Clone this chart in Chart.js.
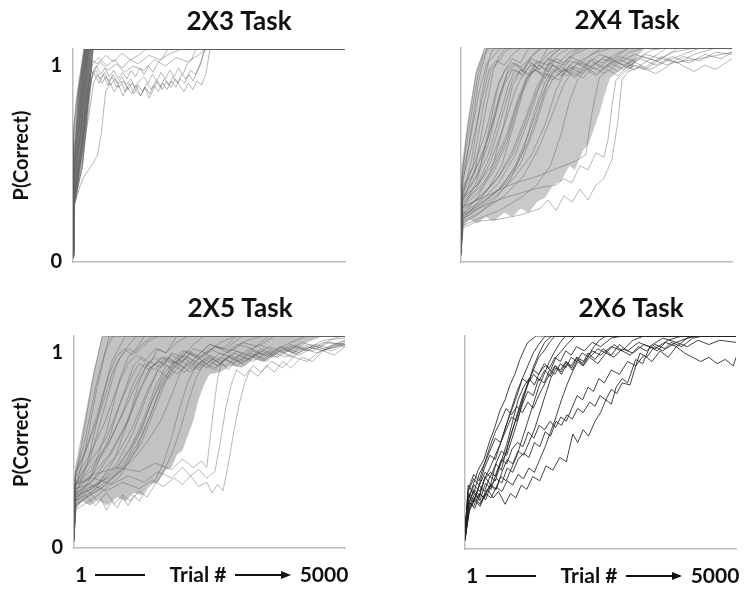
<!DOCTYPE html>
<html>
<head>
<meta charset="utf-8">
<script src="https://cdn.jsdelivr.net/npm/chart.js@4.4.1/dist/chart.umd.min.js"></script>
<style>
  body { margin: 0; background: #fff; }
  #wrap { position: relative; width: 746px; height: 590px; overflow: hidden; }
  .panel { position: absolute; width: 373px; }
</style>
</head>
<body>
<div id="wrap">
  <div class="panel" style="left:0;top:0;height:290px"><canvas id="c23"></canvas></div>
  <div class="panel" style="left:373px;top:0;height:290px"><canvas id="c24"></canvas></div>
  <div class="panel" style="left:0;top:290px;height:300px"><canvas id="c25"></canvas></div>
  <div class="panel" style="left:373px;top:290px;height:300px"><canvas id="c26"></canvas></div>
</div>
<script>
// x = trial number, y = P(correct); each curve is a list of [trial, p] points
const trialRange = [1, 5000];
const yTickValues = [0, 0.92];
const yTickLabels = ['0', '1'];
const panelTitles = ['2X3 Task', '2X4 Task', '2X5 Task', '2X6 Task'];
const yAxisTitle = 'P(Correct)';
const footerLabels = ['1', 'Trial #', '5000'];

// edges of the dense mass of curves, filled in between
const band2x3Upper = [[1,.1],[5,.45],[37,.57],[92,.81],[220,1],[380,1]];
const band2x3Lower = [[1,.02],[15,.25],[70,.3],[200,.57],[330,.85],[375,1],[380,1]];
const band2x4Upper = [[1,.12],[12,.45],[120,.66],[280,.9],[440,1],[3400,1]];
const band2x4Lower = [[1,.04],[40,.16],[150,.2],[300,.18],[450,.21],[600,.19],[800,.23],[950,.21],[1100,.25],[1250,.23],[1400,.28],[1550,.3],[1700,.36],[1850,.38],[2000,.45],[2100,.43],[2250,.52],[2350,.55],[2450,.62],[2560,.7],[2650,.78],[2750,.86],[2850,.88],[3000,.91],[3150,.9],[3250,.96],[3400,1]];
const band2x5Upper = [[1,.12],[20,.38],[150,.55],[350,.82],[520,1],[4600,1]];
const band2x5Lower = [[1,.04],[30,.18],[150,.22],[300,.2],[450,.23],[600,.2],[800,.24],[950,.22],[1100,.26],[1250,.25],[1400,.3],[1550,.31],[1700,.37],[1800,.38],[1900,.44],[2000,.46],[2100,.53],[2200,.6],[2300,.7],[2400,.77],[2500,.82],[2700,.83],[2900,.86],[3100,.85],[3300,.89],[3500,.88],[3800,.93],[4050,.92],[4300,.97],[4600,1]];

const task2x3 = [
  [[1,.02],[8,.6],[60,.76],[200,1],[5000,1]],
  [[1,.05],[10,.55],[80,.72],[215,1],[5000,1]],
  [[1,.03],[12,.48],[90,.66],[225,1],[5000,1]],
  [[1,.08],[10,.45],[100,.64],[225,.97],[240,1],[5000,1]],
  [[1,.04],[15,.4],[110,.6],[230,.92],[250,1],[5000,1]],
  [[1,.06],[12,.38],[120,.58],[240,.9],[265,1],[5000,1]],
  [[1,.02],[14,.35],[130,.55],[250,.88],[280,1],[5000,1]],
  [[1,.05],[16,.33],[140,.52],[260,.85],[300,1],[5000,1]],
  [[1,.03],[18,.3],[150,.5],[270,.82],[310,.97],[330,1],[5000,1]],
  [[1,.07],[12,.5],[90,.7],[200,.95],[225,1],[5000,1]],
  [[1,.04],[10,.58],[70,.74],[210,1],[5000,1]],
  [[1,.05],[14,.42],[100,.62],[220,.93],[245,1],[5000,1]],
  [[1,.02],[15,.36],[120,.56],[245,.87],[290,1],[5000,1]],
  [[1,.06],[20,.3],[160,.48],[285,.8],[335,.96],[355,1],[5000,1]],
  [[1,.03],[18,.28],[170,.45],[295,.78],[345,.93],[370,1],[5000,1]],
  [[1,.05],[10,.52],[100,.68],[210,.96],[225,1],[5000,1]],
  [[1,.04],[12,.46],[110,.65],[235,.95],[255,1],[5000,1]],
  [[1,.07],[16,.4],[130,.6],[250,.9],[280,1],[5000,1]],
  [[1,.02],[20,.33],[150,.54],[275,.85],[315,1],[5000,1]],
  [[1,.05],[8,.62],[50,.72],[205,1],[5000,1]],
  [[1,.03],[22,.26],[180,.46],[305,.83],[360,.98],[380,1],[5000,1]],
  [[1,.06],[14,.44],[115,.63],[235,.93],[260,1],[5000,1]],
  [[1,.04],[15,.38],[130,.58],[260,.88],[330,.95],[450,.93],[600,.97],[750,.94],[900,.98],[1050,.95],[1200,.97],[1350,1],[5000,1]],
  [[1,.05],[18,.32],[160,.5],[290,.84],[360,.93],[480,.96],[620,.92],[760,.95],[900,.91],[1050,.95],[1200,.93],[1400,.97],[1600,.95],[1800,.98],[2000,1],[5000,1]],
  [[1,.03],[20,.3],[170,.47],[300,.8],[380,.9],[500,.94],[640,.9],[800,.93],[950,.89],[1100,.92],[1300,.9],[1500,.95],[1700,.92],[1900,.96],[2100,.94],[2300,.97],[2450,1],[5000,1]],
  [[1,.02],[12,.28],[60,.3],[120,.35],[200,.4],[280,.43],[360,.46],[450,.5],[520,.6],[600,.8],[680,.84],[760,.8],[840,.83],[920,.78],[1000,.82],[1080,.79],[1160,.83],[1240,.78],[1320,.82],[1400,.77],[1480,.81],[1560,.85],[1640,.81],[1720,.85],[1800,.82],[1880,.86],[1960,.83],[2040,.8],[2120,.84],[2200,.81],[2280,.85],[2360,.83],[2440,.88],[2520,1],[5000,1]],
  [[1,.03],[15,.3],[100,.42],[200,.55],[300,.7],[380,.84],[450,.88],[530,.84],[610,.87],[690,.83],[770,.86],[850,.82],[930,.85],[1010,.81],[1090,.84],[1170,.8],[1250,.78],[1330,.82],[1410,.79],[1490,.83],[1570,.8],[1650,.84],[1730,.81],[1810,.85],[1890,.82],[1970,.86],[2050,.84],[2130,.88],[2210,.85],[2290,.9],[2380,.96],[2420,1],[5000,1]],
  [[1,.04],[18,.32],[150,.5],[260,.72],[340,.86],[420,.9],[500,.86],[580,.89],[660,.85],[740,.88],[820,.84],[900,.87],[980,.83],[1060,.86],[1140,.82],[1220,.85],[1300,.87],[1380,.84],[1460,.88],[1540,.85],[1620,.89],[1700,.86],[1780,.9],[1860,.87],[1940,.91],[2020,.88],[2100,.93],[2180,.95],[2260,1],[5000,1]],
  [[1,.05],[20,.28],[170,.44],[280,.7],[350,.88],[430,.92],[510,.88],[590,.91],[670,.87],[750,.9],[830,.86],[910,.89],[990,.86],[1070,.9],[1150,.87],[1230,.91],[1310,.88],[1390,.92],[1470,.89],[1550,.93],[1650,.96],[1750,1],[5000,1]],
  [[1,.03],[16,.34],[140,.52],[250,.76],[320,.9],[400,.88],[480,.84],[560,.88],[640,.83],[720,.87],[800,.82],[880,.85],[960,.8],[1040,.84],[1120,.79],[1200,.83],[1280,.8],[1360,.84],[1440,.81],[1520,.85],[1600,.82],[1680,.86],[1760,.83],[1840,.87],[1920,.84],[2000,.88],[2080,.86],[2160,.9],[2260,.88],[2350,.93],[2400,.98],[2450,1],[5000,1]]
];

const task2x4 = [
  [[1,.05],[15,.4],[120,.62],[280,.88],[440,1],[5000,1]],
  [[1,.08],[20,.35],[150,.55],[320,.84],[480,1],[5000,1]],
  [[1,.04],[25,.3],[200,.48],[380,.78],[520,.95],[600,1],[5000,1]],
  [[1,.06],[20,.42],[140,.6],[300,.86],[420,.97],[520,1],[5000,1]],
  [[1,.05],[25,.28],[250,.42],[450,.7],[600,.9],[700,.96],[820,1],[5000,1]],
  [[1,.07],[30,.33],[220,.45],[420,.74],[560,.9],[680,.93],[800,.98],[900,1],[5000,1]],
  [[1,.03],[30,.25],[300,.38],[500,.6],[700,.84],[820,.9],[950,.95],[1100,.93],[1250,1],[5000,1]],
  [[1,.06],[25,.3],[280,.4],[520,.56],[720,.78],[880,.9],[1000,.93],[1150,.9],[1300,.96],[1450,1],[5000,1]],
  [[1,.05],[30,.22],[300,.3],[550,.42],[750,.6],[950,.82],[1100,.9],[1250,.87],[1400,.93],[1550,.9],[1700,.97],[1850,1],[5000,1]],
  [[1,.04],[35,.2],[250,.26],[500,.34],[750,.45],[950,.62],[1150,.8],[1300,.88],[1450,.92],[1600,.89],[1750,.95],[1900,.93],[2100,.98],[2250,1],[5000,1]],
  [[1,.06],[25,.36],[200,.4],[400,.5],[600,.66],[800,.83],[950,.9],[1100,.88],[1250,.94],[1400,.91],[1600,.97],[1800,1],[5000,1]],
  [[1,.03],[30,.27],[350,.35],[600,.44],[850,.58],[1050,.75],[1250,.87],[1400,.9],[1550,.86],[1700,.92],[1850,.89],[2000,.94],[2200,.92],[2400,.97],[2600,1],[5000,1]],
  [[1,.05],[35,.18],[300,.22],[650,.3],[900,.38],[1150,.52],[1350,.7],[1550,.84],[1700,.9],[1850,.87],[2000,.92],[2200,.9],[2400,.95],[2600,.93],[2850,.97],[3100,1],[5000,1]],
  [[1,.07],[30,.3],[300,.36],[600,.46],[850,.6],[1050,.76],[1200,.86],[1350,.9],[1500,.87],[1650,.93],[1800,.9],[2000,.96],[2200,.94],[2500,.98],[2800,1],[5000,1]],
  [[1,.04],[40,.2],[400,.27],[750,.35],[1000,.45],[1250,.6],[1450,.75],[1650,.87],[1800,.92],[2000,.89],[2200,.94],[2400,.91],[2650,.96],[2900,.93],[3200,.97],[3500,.95],[3800,1],[5000,1]],
  [[1,.06],[30,.25],[350,.3],[700,.4],[950,.52],[1200,.68],[1400,.82],[1550,.88],[1700,.85],[1900,.9],[2100,.87],[2300,.92],[2500,.9],[2750,.95],[3000,.92],[3300,.96],[3600,.94],[3900,.98],[4300,1],[5000,1]],
  [[1,.05],[35,.22],[400,.28],[800,.36],[1100,.46],[1350,.62],[1550,.78],[1700,.86],[1900,.9],[2100,.86],[2300,.91],[2500,.88],[2750,.93],[3000,.9],[3300,.95],[3600,.92],[3900,.96],[4200,.93],[4500,.97],[4800,.95],[5000,.98]],
  [[1,.04],[40,.17],[300,.2],[700,.24],[1100,.3],[1400,.36],[1650,.45],[1850,.6],[2000,.75],[2150,.85],[2300,.9],[2500,.87],[2700,.92],[2900,.89],[3150,.94],[3400,.91],[3700,.96],[4000,.93],[4300,.89],[4500,.92],[4700,.9],[5000,.95]],
  [[1,.05],[30,.32],[250,.42],[500,.58],[700,.77],[850,.88],[1000,.92],[1150,.89],[1300,.95],[1450,.93],[1600,1],[5000,1]],
  [[1,.06],[25,.38],[180,.52],[380,.75],[520,.9],[650,.94],[800,.92],[950,.97],[1100,1],[5000,1]],
  [[1,.03],[30,.28],[280,.34],[550,.47],[800,.64],[1000,.8],[1150,.88],[1300,.92],[1450,.9],[1600,.95],[1800,.93],[2000,.98],[2200,1],[5000,1]],
  [[1,.05],[35,.24],[320,.3],[650,.38],[950,.5],[1200,.66],[1400,.8],[1550,.88],[1700,.92],[1900,.89],[2100,.94],[2300,.92],[2550,.97],[2800,.95],[3100,1],[5000,1]],
  [[1,.07],[30,.2],[350,.25],[700,.32],[1000,.4],[1300,.5],[1550,.64],[1750,.8],[1900,.88],[2050,.91],[2250,.88],[2450,.93],[2650,.9],[2900,.95],[3150,.92],[3400,.97],[3700,.95],[4000,1],[5000,1]],
  [[1,.05],[30,.26],[400,.3],[900,.36],[1400,.4],[1800,.44],[2100,.47],[2300,.5],[2420,.7],[2550,.86],[2700,.9],[2900,.87],[3100,.92],[3400,.9],[3700,.95],[4000,.93],[4300,.97],[4700,1],[5000,1]],
  [[1,.04],[40,.16],[300,.19],[700,.2],[1100,.22],[1458,.25],[1605,.29],[1753,.24],[1900,.31],[2048,.28],[2196,.34],[2343,.29],[2491,.36],[2638,.39],[2786,.48],[2897,.66],[2970,.85],[3081,.89],[3303,.91],[3600,.88],[3900,.93],[4410,.95],[5000,.98]],
  [[1,.05],[35,.22],[400,.26],[800,.3],[1200,.33],[1500,.35],[1753,.36],[1900,.39],[2048,.37],[2196,.45],[2343,.43],[2491,.51],[2638,.49],[2712,.57],[2786,.73],[2860,.85],[3026,.89],[3200,.92],[3500,.9],[3800,.94],[4100,.97],[4400,1],[5000,1]],
  [[1,.04],[25,.34],[220,.44],[450,.6],[650,.8],[800,.89],[950,.93],[1100,.91],[1300,.96],[1500,1],[5000,1]],
  [[1,.06],[30,.26],[300,.32],[600,.42],[850,.56],[1050,.73],[1200,.85],[1350,.9],[1500,.88],[1700,.94],[1900,.92],[2100,.97],[2350,1],[5000,1]],
  [[1,.05],[35,.21],[350,.27],[700,.34],[1000,.44],[1250,.57],[1450,.72],[1600,.84],[1750,.9],[1950,.87],[2150,.93],[2350,.9],[2600,.95],[2850,.93],[3100,.98],[3400,1],[5000,1]],
  [[1,.03],[30,.3],[250,.38],[500,.5],[700,.67],[880,.83],[1000,.9],[1150,.87],[1300,.93],[1450,.9],[1650,.96],[1850,1],[5000,1]],
  [[1,.07],[40,.19],[400,.24],[800,.31],[1150,.4],[1450,.54],[1700,.7],[1900,.83],[2050,.89],[2250,.86],[2450,.91],[2650,.88],[2900,.93],[3200,.9],[3500,.95],[3800,.92],[4100,.96],[4400,.94],[4700,.98],[5000,.97]],
  [[1,.05],[25,.4],[160,.56],[340,.8],[480,.93],[600,.96],[720,1],[5000,1]],
  [[1,.04],[30,.29],[300,.36],[550,.5],[780,.7],[950,.85],[1100,.9],[1250,.88],[1400,.94],[1600,.92],[1800,.97],[2000,1],[5000,1]],
  [[1,.06],[35,.23],[350,.28],[700,.37],[1000,.5],[1250,.67],[1450,.82],[1600,.88],[1800,.85],[2000,.91],[2200,.88],[2400,.94],[2650,.91],[2900,.96],[3200,.94],[3500,.99],[3800,1],[5000,1]]
];

const task2x5 = [
  [[1,.05],[20,.32],[150,.5],[350,.8],[520,1],[5000,1]],
  [[1,.07],[25,.28],[200,.45],[420,.75],[600,.95],[650,1],[5000,1]],
  [[1,.04],[25,.35],[180,.48],[400,.76],[580,.93],[720,1],[5000,1]],
  [[1,.06],[30,.25],[250,.4],[500,.68],[700,.88],[820,.94],[950,1],[5000,1]],
  [[1,.05],[25,.3],[300,.42],[550,.65],[780,.86],[900,.92],[1050,.97],[1150,1],[5000,1]],
  [[1,.03],[30,.22],[300,.33],[600,.55],[850,.8],[1000,.9],[1150,.94],[1300,1],[5000,1]],
  [[1,.06],[30,.27],[350,.35],[650,.52],[900,.72],[1100,.86],[1250,.9],[1400,.87],[1550,.94],[1700,.92],[1900,1],[5000,1]],
  [[1,.05],[35,.2],[400,.28],[750,.42],[1000,.6],[1200,.78],[1350,.87],[1500,.9],[1650,.86],[1800,.92],[2000,.9],[2200,.96],[2400,1],[5000,1]],
  [[1,.04],[25,.3],[300,.38],[650,.5],[950,.66],[1200,.8],[1400,.88],[1600,.85],[1800,.91],[2000,.88],[2200,.94],[2450,.92],[2700,.97],[3000,1],[5000,1]],
  [[1,.07],[30,.24],[400,.3],[800,.4],[1100,.55],[1350,.72],[1550,.84],[1750,.9],[1950,.86],[2150,.92],[2350,.89],[2600,.95],[2850,.92],[3100,.97],[3400,.95],[3700,1],[5000,1]],
  [[1,.05],[35,.18],[450,.25],[850,.34],[1150,.46],[1400,.62],[1600,.76],[1800,.86],[2000,.9],[2200,.87],[2400,.92],[2650,.88],[2900,.94],[3150,.91],[3400,.96],[3700,.93],[4000,.97],[4300,1],[5000,1]],
  [[1,.06],[25,.33],[250,.42],[550,.58],[800,.76],[1000,.87],[1150,.91],[1300,.88],[1500,.94],[1700,.92],[1900,.97],[2100,1],[5000,1]],
  [[1,.04],[30,.26],[350,.32],[700,.45],[1000,.6],[1250,.76],[1450,.86],[1650,.9],[1850,.87],[2050,.93],[2250,.9],[2500,.96],[2750,.94],[3000,1],[5000,1]],
  [[1,.05],[40,.21],[500,.28],[900,.37],[1250,.5],[1500,.66],[1700,.79],[1900,.87],[2100,.9],[2300,.86],[2500,.91],[2750,.88],[3000,.93],[3300,.9],[3600,.95],[3900,.92],[4200,.97],[4500,.95],[4800,.99],[5000,1]],
  [[1,.06],[30,.3],[300,.36],[600,.47],[900,.64],[1100,.78],[1300,.87],[1500,.84],[1700,.9],[1900,.87],[2100,.93],[2350,.9],[2600,.95],[2900,.93],[3200,.98],[3500,1],[5000,1]],
  [[1,.03],[35,.23],[450,.3],[850,.4],[1200,.54],[1450,.7],[1650,.82],[1850,.88],[2050,.85],[2250,.9],[2450,.87],[2700,.92],[2950,.89],[3250,.94],[3550,.91],[3850,.95],[4150,.92],[4450,.96],[4750,.94],[5000,.97]],
  [[1,.05],[25,.36],[220,.46],[480,.64],[700,.82],[850,.9],[1000,.94],[1150,.92],[1350,.97],[1550,1],[5000,1]],
  [[1,.07],[30,.25],[400,.33],[800,.44],[1100,.58],[1350,.74],[1550,.84],[1750,.8],[1950,.86],[2150,.83],[2350,.88],[2600,.85],[2850,.9],[3100,.87],[3400,.92],[3700,.9],[4000,.95],[4300,.93],[4600,.97],[5000,.96]],
  [[1,.04],[30,.22],[200,.25],[400,.2],[500,.23],[600,.18],[700,.22],[800,.19],[900,.24],[1000,.2],[1100,.25],[1200,.22],[1350,.28],[1500,.32],[1650,.4],[1800,.52],[1950,.66],[2100,.78],[2250,.86],[2450,.9],[2650,.86],[2850,.91],[3050,.88],[3300,.93],[3550,.9],[3800,.95],[4050,.92],[4300,.96],[4600,.94],[5000,.98]],
  [[1,.05],[35,.25],[250,.27],[450,.22],[600,.26],[750,.21],[900,.25],[1050,.22],[1200,.27],[1350,.24],[1500,.3],[1650,.36],[1800,.44],[1950,.55],[2100,.68],[2250,.8],[2400,.87],[2600,.84],[2800,.89],[3000,.86],[3250,.91],[3500,.88],[3750,.93],[4000,.9],[4300,.95],[4600,.93],[5000,.97]],
  [[1,.06],[30,.28],[300,.3],[600,.27],[900,.31],[1200,.28],[1450,.32],[1650,.29],[1850,.33],[2000,.3],[2150,.34],[2300,.29],[2450,.31],[2550,.26],[2650,.3],[2750,.27],[2850,.4],[2950,.55],[3050,.68],[3150,.78],[3250,.84],[3400,.81],[3550,.86],[3700,.83],[3850,.88],[4000,.85],[4200,.9],[4400,.88],[4600,.93],[4800,.91],[5000,.95]],
  [[1,.04],[30,.3],[350,.33],[700,.3],[1000,.34],[1300,.31],[1550,.36],[1800,.33],[2000,.38],[2150,.34],[2300,.37],[2450,.33],[2600,.36],[2700,.5],[2800,.66],[2900,.77],[3000,.84],[3150,.81],[3300,.86],[3450,.83],[3650,.88],[3850,.85],[4050,.9],[4300,.88],[4550,.93],[5000,.96]],
  [[1,.05],[30,.3],[400,.35],[800,.38],[1200,.36],[1500,.4],[1800,.37],[2000,.42],[2200,.38],[2350,.41],[2450,.38],[2550,.6],[2650,.8],[2720,.87],[2850,.84],[3000,.89],[3150,.86],[3350,.91],[3550,.88],[3800,.93],[4050,.9],[4300,.95],[4600,.93],[5000,.98]],
  [[1,.06],[35,.26],[400,.3],[800,.35],[1100,.42],[1350,.5],[1600,.6],[1800,.72],[1950,.82],[2100,.88],[2300,.85],[2500,.9],[2700,.87],[2950,.92],[3200,.89],[3450,.94],[3700,.91],[4000,.96],[4300,.94],[4600,.98],[5000,.99]],
  [[1,.03],[25,.31],[280,.4],[600,.52],[850,.68],[1050,.8],[1200,.87],[1400,.84],[1600,.9],[1800,.87],[2000,.93],[2250,.9],[2500,.96],[2800,.94],[3100,1],[5000,1]],
  [[1,.05],[30,.22],[350,.27],[700,.33],[1000,.43],[1250,.56],[1450,.7],[1650,.8],[1850,.86],[2050,.83],[2250,.88],[2450,.85],[2700,.9],[2950,.87],[3250,.92],[3550,.89],[3850,.94],[4150,.91],[4450,.95],[4750,.93],[5000,.96]],
  [[1,.06],[25,.34],[200,.45],[420,.62],[620,.8],[780,.9],[920,.94],[1080,.91],[1250,.96],[1450,1],[5000,1]],
  [[1,.04],[35,.2],[300,.25],[600,.3],[900,.38],[1150,.48],[1400,.62],[1600,.75],[1800,.84],[2000,.88],[2200,.84],[2400,.89],[2650,.86],[2900,.91],[3150,.88],[3450,.93],[3750,.9],[4050,.95],[4400,.93],[4700,.97],[5000,.96]],
  [[1,.05],[30,.28],[320,.34],[650,.44],[950,.58],[1200,.74],[1400,.85],[1600,.88],[1800,.85],[2000,.91],[2250,.88],[2500,.94],[2750,.91],[3000,.96],[3300,.94],[3600,1],[5000,1]],
  [[1,.07],[30,.24],[380,.29],[750,.36],[1050,.47],[1300,.62],[1500,.76],[1700,.86],[1900,.82],[2100,.87],[2300,.84],[2550,.89],[2800,.86],[3050,.91],[3300,.88],[3600,.93],[3900,.9],[4200,.94],[4500,.92],[4800,.96],[5000,.95]]
];

const task2x6 = [
  [[1,.1],[55,.23],[150,.3],[240,.37],[350,.42],[460,.51],[550,.57],[645,.65],[740,.7],[830,.77],[920,.82],[1015,.89],[1100,.94],[1160,.97],[1310,1],[5000,1]],
  [[1,.05],[60,.2],[160,.27],[260,.24],[360,.33],[460,.38],[560,.44],[660,.5],[760,.58],[860,.65],[960,.72],[1060,.8],[1160,.86],[1260,.92],[1360,.96],[1480,1],[5000,1]],
  [[1,.08],[60,.25],[160,.22],[260,.3],[360,.27],[460,.34],[560,.32],[660,.4],[760,.45],[860,.55],[960,.62],[1060,.7],[1160,.78],[1260,.84],[1360,.9],[1460,.93],[1560,.97],[1660,1],[5000,1]],
  [[1,.04],[80,.2],[180,.26],[280,.23],[380,.31],[480,.28],[580,.36],[680,.42],[780,.5],[880,.6],[980,.7],[1080,.76],[1180,.8],[1280,.77],[1380,.83],[1480,.86],[1580,.84],[1680,.9],[1780,.93],[1880,.96],[2030,1],[5000,1]],
  [[1,.06],[70,.22],[170,.28],[270,.25],[370,.34],[470,.3],[570,.4],[670,.37],[770,.47],[870,.55],[970,.64],[1070,.72],[1170,.78],[1270,.82],[1370,.79],[1470,.84],[1570,.81],[1670,.86],[1770,.83],[1870,.88],[1970,.85],[2070,.9],[2170,.87],[2270,.92],[2400,.89],[2550,.94],[2700,.91],[2850,.96],[3000,.93],[3200,.97],[3400,.95],[3650,.99],[3900,.97],[4200,1],[5000,1]],
  [[1,.07],[60,.3],[160,.26],[260,.35],[360,.4],[460,.48],[560,.55],[660,.6],[760,.66],[860,.63],[960,.67],[1060,.64],[1160,.69],[1260,.66],[1360,.72],[1460,.77],[1560,.82],[1660,.86],[1760,.84],[1860,.88],[1960,.86],[2060,.9],[2200,.88],[2350,.93],[2500,.91],[2700,.95],[2900,.93],[3100,.98],[3300,1],[5000,1]],
  [[1,.05],[80,.18],[180,.24],[280,.21],[380,.27],[480,.3],[580,.28],[680,.36],[780,.42],[880,.4],[980,.46],[1080,.44],[1180,.5],[1280,.56],[1380,.64],[1480,.72],[1580,.8],[1680,.85],[1780,.82],[1880,.87],[1980,.84],[2080,.89],[2180,.86],[2300,.9],[2450,.87],[2600,.92],[2750,.9],[2900,.94],[3100,.92],[3300,.96],[3500,.94],[3750,.98],[4000,1],[5000,1]],
  [[1,.06],[90,.2],[200,.25],[300,.22],[420,.28],[520,.24],[620,.27],[740,.21],[840,.26],[940,.24],[1040,.3],[1140,.28],[1250,.34],[1380,.32],[1495,.39],[1620,.37],[1750,.43],[1870,.41],[1990,.54],[2080,.5],[2180,.56],[2280,.53],[2400,.6],[2500,.64],[2600,.7],[2700,.68],[2790,.76],[2900,.8],[3000,.78],[3150,.89],[3280,.87],[3410,.95],[3550,.93],[3700,.97],[3900,.95],[4100,.99],[4300,1],[5000,1]],
  [[1,.05],[70,.24],[170,.3],[270,.27],[370,.33],[470,.36],[570,.34],[670,.42],[770,.4],[870,.47],[970,.5],[1070,.48],[1170,.55],[1270,.52],[1370,.58],[1470,.56],[1570,.6],[1670,.57],[1770,.62],[1870,.6],[1970,.66],[2070,.72],[2170,.7],[2270,.76],[2370,.74],[2470,.8],[2570,.78],[2700,.84],[2850,.82],[3000,.88],[3150,.86],[3300,.91],[3450,.88],[3600,.93],[3750,.9],[3900,.95],[4050,.92],[4200,.9],[4350,.88],[4500,.9],[4650,.87],[4800,.89],[4950,.86],[5000,.9]],
  [[1,.04],[80,.22],[180,.19],[280,.26],[380,.23],[480,.3],[580,.33],[680,.31],[780,.38],[880,.36],[980,.42],[1080,.45],[1180,.43],[1280,.5],[1380,.48],[1480,.55],[1580,.53],[1680,.6],[1780,.58],[1880,.63],[1980,.61],[2080,.66],[2180,.64],[2300,.69],[2400,.67],[2490,.72],[2600,.7],[2700,.75],[2800,.73],[2900,.78],[3045,.77],[3150,.86],[3230,.92],[3350,.9],[3500,.95],[3650,.93],[3800,.97],[4000,.95],[4200,.99],[4400,1],[5000,1]],
  [[1,.07],[60,.27],[160,.33],[260,.3],[360,.38],[460,.44],[560,.42],[660,.5],[760,.56],[860,.62],[960,.6],[1060,.68],[1160,.74],[1260,.72],[1360,.8],[1460,.78],[1560,.84],[1660,.82],[1760,.87],[1860,.85],[1960,.9],[2060,.88],[2160,.92],[2300,.9],[2450,.94],[2600,.92],[2750,.96],[2900,.93],[3050,.91],[3200,.95],[3350,.93],[3500,.96],[3700,.94],[3900,.97],[4100,.95],[4300,.98],[4500,.96],[4700,.98],[5000,.97]],
  [[1,.05],[70,.26],[170,.23],[270,.3],[370,.36],[470,.34],[570,.4],[670,.46],[770,.44],[870,.52],[970,.6],[1070,.7],[1170,.78],[1270,.86],[1370,.92],[1470,.97],[1600,1],[5000,1]],
  [[1,.06],[60,.22],[160,.2],[260,.26],[360,.24],[460,.3],[560,.28],[660,.34],[760,.32],[860,.38],[960,.44],[1060,.52],[1160,.6],[1260,.68],[1360,.76],[1460,.82],[1560,.88],[1660,.93],[1760,.97],[1850,1],[5000,1]],
  [[1,.04],[80,.18],[180,.23],[280,.2],[380,.26],[480,.24],[580,.29],[680,.27],[780,.32],[880,.3],[980,.35],[1080,.33],[1180,.38],[1280,.36],[1380,.42],[1480,.48],[1580,.55],[1680,.62],[1780,.7],[1880,.77],[1980,.83],[2080,.88],[2180,.86],[2280,.91],[2380,.95],[2480,.98],[2600,1],[5000,1]],
  [[1,.08],[60,.28],[160,.35],[260,.32],[360,.4],[460,.46],[560,.52],[660,.5],[760,.58],[860,.66],[960,.74],[1060,.8],[1160,.78],[1260,.84],[1360,.82],[1460,.87],[1560,.85],[1660,.9],[1760,.88],[1860,.93],[1960,.91],[2060,.95],[2200,.93],[2350,.97],[2500,.95],[2700,.99],[2900,1],[5000,1]]
];

const FONT = 'Lato, "Open Sans", sans-serif';

// titles and the "1 —— Trial # ——> 5000" caption, placed relative to the plot area
const panelText = {
  id: 'panelText',
  afterDraw(chart, args, o) {
    const { ctx, chartArea: a } = chart;
    ctx.save();
    ctx.fillStyle = '#111';
    ctx.strokeStyle = '#111';
    ctx.textAlign = 'center';
    ctx.textBaseline = 'middle';
    ctx.font = 'bold 26px ' + FONT;
    ctx.fillText(o.title, a.left + 166, a.top - 27);
    if (o.footer) {
      const y = a.bottom + 27;
      const x0 = a.left;
      ctx.font = 'bold 21px ' + FONT;
      ctx.fillText(footerLabels[0], x0 + 7, y);
      ctx.fillText(footerLabels[1], x0 + 124, y);
      ctx.fillText(footerLabels[2], x0 + 250, y);
      ctx.lineWidth = 2;
      ctx.beginPath();
      ctx.moveTo(x0 + 21, y); ctx.lineTo(x0 + 71, y);
      ctx.moveTo(x0 + 161, y); ctx.lineTo(x0 + 210, y);
      ctx.stroke();
      ctx.beginPath();
      ctx.moveTo(x0 + 217, y);
      ctx.lineTo(x0 + 207, y - 4);
      ctx.lineTo(x0 + 207, y + 4);
      ctx.closePath();
      ctx.fill();
    }
    ctx.restore();
  }
};

function makePanel(id, title, curves, cfg) {
  const canvas = document.getElementById(id);
  const W = 373, H = canvas.parentNode.clientHeight;
  const datasets = [];
  if (cfg.band) {
    datasets.push({ data: cfg.band[0], borderWidth: 0, pointRadius: 0, fill: false });
    datasets.push({ data: cfg.band[1], borderWidth: 0, pointRadius: 0, fill: 0, backgroundColor: cfg.bandColor });
  }
  curves.forEach(c => datasets.push({
    data: c,
    borderColor: cfg.color,
    borderWidth: cfg.width,
    pointRadius: 0,
    tension: 0,
    fill: false
  }));
  new Chart(canvas, {
    type: 'line',
    data: { datasets },
    options: {
      responsive: true,
      maintainAspectRatio: false,
      animation: false,
      events: [],
      layout: {
        padding: { left: 0, top: cfg.top, right: W - cfg.right, bottom: H - cfg.bottom }
      },
      scales: {
        x: {
          type: 'linear',
          min: trialRange[0],
          max: trialRange[1],
          grid: { display: false, drawTicks: false },
          border: { display: true, color: '#bdbdbd', width: 1.5 },
          ticks: { display: false },
          afterFit(s) { s.height = 0; }
        },
        y: {
          min: 0,
          max: 1,
          grid: { display: false, drawTicks: false },
          border: { display: true, color: '#bdbdbd', width: 1.5 },
          afterBuildTicks(s) { s.ticks = yTickValues.map(v => ({ value: v })); },
          afterFit(s) { s.width = cfg.left; },
          ticks: {
            display: cfg.labels,
            padding: 11,
            color: '#111',
            font: { family: FONT, size: 20, weight: 'bold' },
            callback: (v) => yTickLabels[yTickValues.indexOf(v)]
          },
          title: {
            display: cfg.labels,
            text: yAxisTitle,
            color: '#111',
            padding: { top: 10, bottom: 0 },
            font: { family: FONT, size: 20, weight: 'bold' }
          }
        }
      },
      plugins: {
        legend: { display: false },
        tooltip: { enabled: false },
        filler: { drawTime: 'beforeDatasetsDraw' },
        panelText: { title: title, footer: cfg.footer }
      }
    },
    plugins: [panelText]
  });
}

const gray = 'rgba(95,95,95,0.45)';
makePanel('c23', panelTitles[0], task2x3, { color: gray, width: 1, left: 73, right: 345, top: 49, bottom: 262, labels: true, footer: false,
  band: [band2x3Upper, band2x3Lower], bandColor: 'rgba(80,80,80,0.6)' });
makePanel('c24', panelTitles[1], task2x4, { color: gray, width: 1, left: 88, right: 359, top: 48, bottom: 262, labels: false, footer: false,
  band: [band2x4Upper, band2x4Lower], bandColor: 'rgba(120,120,120,0.4)' });
makePanel('c25', panelTitles[2], task2x5, { color: gray, width: 1, left: 74, right: 345, top: 46, bottom: 258, labels: true, footer: true,
  band: [band2x5Upper, band2x5Lower], bandColor: 'rgba(110,110,110,0.42)' });
makePanel('c26', panelTitles[3], task2x6, { color: 'rgba(35,35,35,0.85)', width: 1, left: 92, right: 363, top: 46, bottom: 259, labels: false, footer: true });
</script>
</body>
</html>
